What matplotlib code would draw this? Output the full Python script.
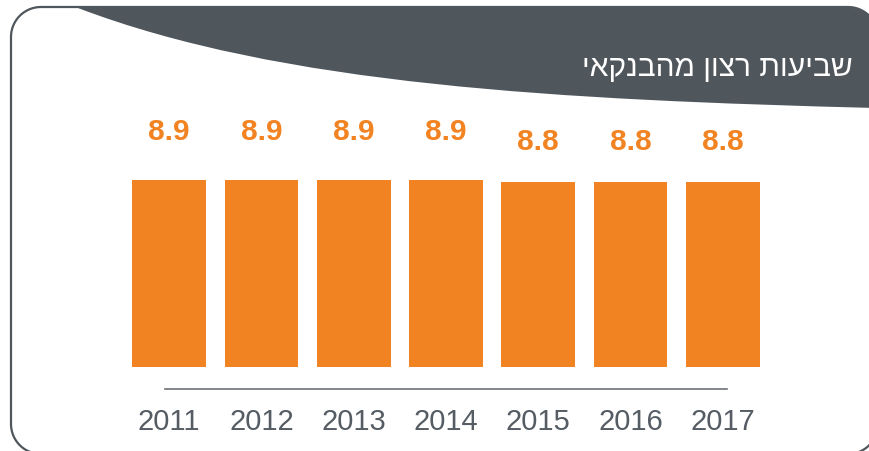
import matplotlib
matplotlib.use("Agg")
import matplotlib.pyplot as plt
from matplotlib.patches import PathPatch, Polygon
from matplotlib.path import Path
import numpy as np

years = ["2011", "2012", "2013", "2014", "2015", "2016", "2017"]
scores = [8.9, 8.9, 8.9, 8.9, 8.8, 8.8, 8.8]
title = "שביעות רצון מהבנקאי"

ORANGE = "#f28322"
DARK = "#4f565c"
YEARC = "#555c63"

W, H = 870, 451
fig = plt.figure(figsize=(W / 100, H / 100), dpi=100)

# overlay axes in pixel coordinates for decorations
ov = fig.add_axes([0, 0, 1, 1], zorder=0)
ov.set_xlim(0, W)
ov.set_ylim(H, 0)
ov.axis("off")


def arc(cx, cy, r, a0, a1, n=30):
    t = np.radians(np.linspace(a0, a1, n))
    return np.column_stack([cx + r * np.cos(t), cy + r * np.sin(t)])


# rounded frame (y grows downward): corners at x 11..878, y 7..454, radius 30
x0, y0, x1, y1, r = 11, 7, 878, 454, 30
pts = np.vstack([
    arc(x1 - r, y0 + r, r, -90, 0),
    arc(x1 - r, y1 - r, r, 0, 90),
    arc(x0 + r, y1 - r, r, 90, 180),
    arc(x0 + r, y0 + r, r, 180, 270),
])
ov.add_patch(Polygon(pts, closed=True, fc="none", ec=DARK, lw=1.6))

# banner
verts = [(78, 7.5), (846, 7.5), (876, 7.5), (876, 37), (876, 108),
         (560, 100), (280, 85), (78, 8), (78, 7.5)]
codes = [Path.MOVETO, Path.LINETO, Path.CURVE3, Path.CURVE3, Path.LINETO,
         Path.CURVE4, Path.CURVE4, Path.CURVE4, Path.CLOSEPOLY]
ov.add_patch(PathPatch(Path(verts, codes), fc=DARK, ec="none"))
ov.text(853, 76, title[::-1], color="white", fontsize=21.5,
        family=["Liberation Sans", "DejaVu Sans"], ha="right", va="baseline")

# baseline
ov.plot([165, 727], [389, 389], color="#6d7176", lw=1.2)

# bar axes: x -0.5..6.5 spans px 123..769, y 0..10 spans px 367..157
px_per_unit = 21.01
left, right = 123, 769
bottom = 367
top = bottom - 10 * px_per_unit
ax = fig.add_axes([left / W, (H - bottom) / H, (right - left) / W, (bottom - top) / H], zorder=1)
ax.patch.set_alpha(0)
x = np.arange(len(years))
ax.bar(x, scores, width=0.80, color=ORANGE)
ax.set_xlim(-0.5, len(years) - 0.5)
ax.set_ylim(0, 10)
ax.axis("off")

for xi, v, yr in zip(x, scores, years):
    label_px = 142.5 - (v - 8.8) * 105
    ax.text(xi, (bottom - label_px) / px_per_unit, f"{v:.1f}", color=ORANGE,
            fontsize=21.5, fontweight="bold", family="Liberation Sans",
            ha="center", va="center", clip_on=False)
    ax.text(xi, (bottom - 421.5) / px_per_unit, yr, color=YEARC,
            fontsize=21, family="Liberation Sans",
            ha="center", va="center", clip_on=False)

fig.savefig("out.png", dpi=100)
